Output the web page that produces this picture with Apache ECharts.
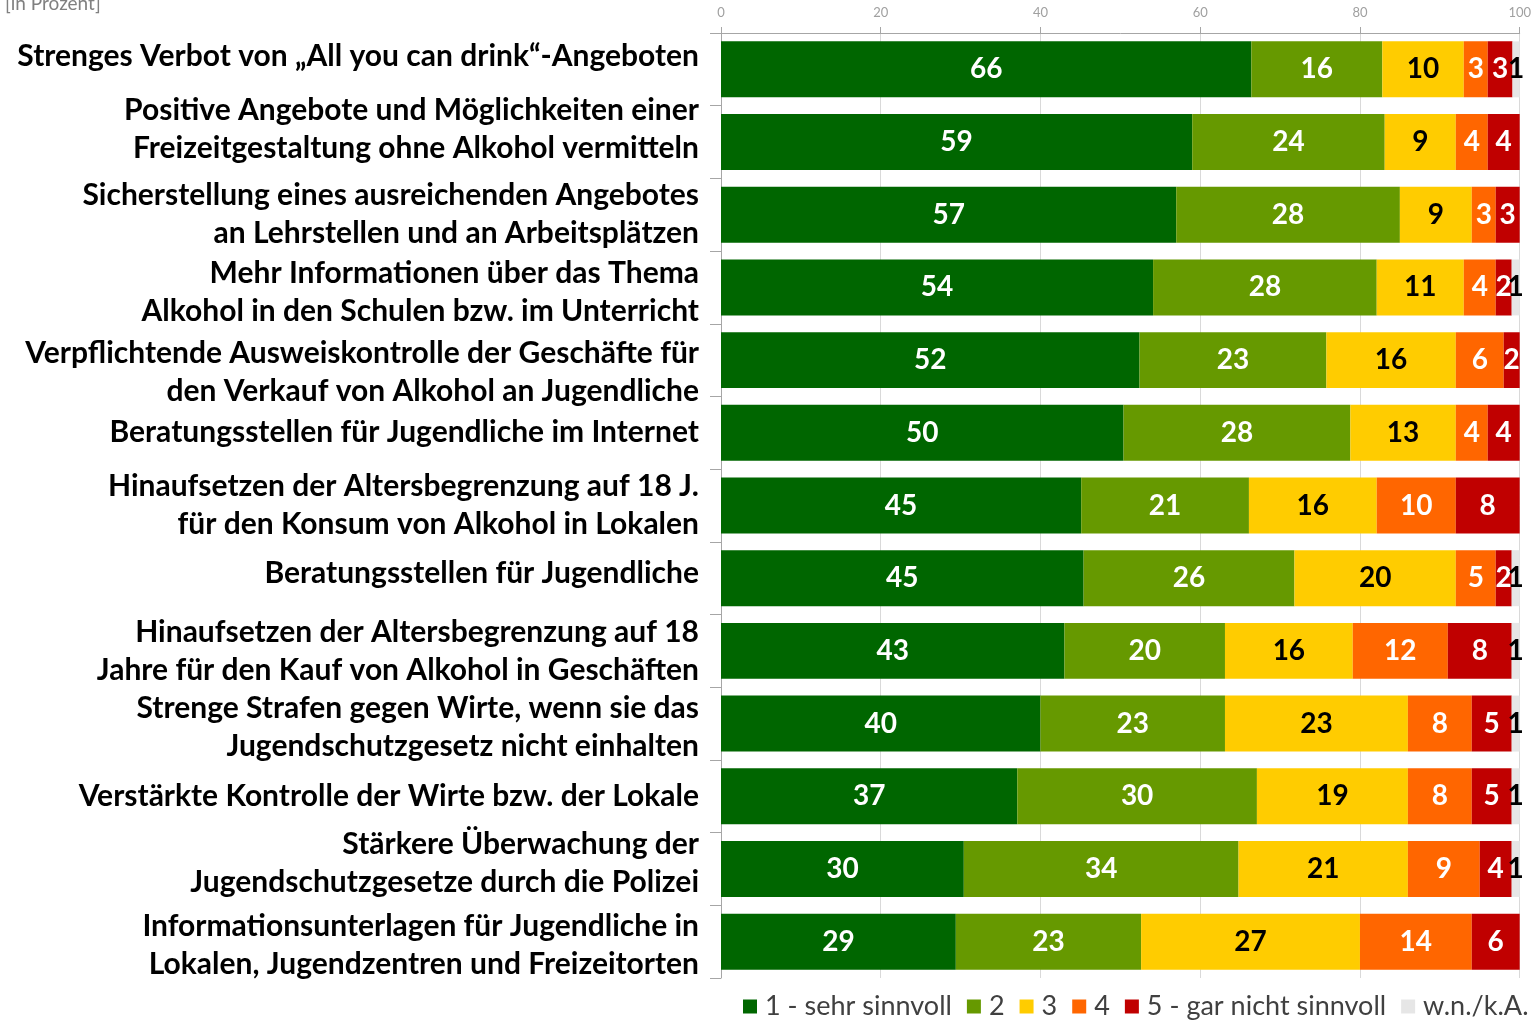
<!DOCTYPE html>
<html>
<head>
<meta charset="utf-8">
<script src="https://cdn.jsdelivr.net/npm/echarts@6/dist/echarts.min.js"></script>
<style>
  html, body { margin: 0; padding: 0; background: #fff; }
  #chart { width: 1534px; height: 1022px; }
</style>
</head>
<body>
<div id="chart"></div>
<script>
// Massnahmen (von oben nach unten)
var categories = [
  'Strenges Verbot von „All you can drink“-Angeboten',
  'Positive Angebote und Möglichkeiten einer\nFreizeitgestaltung ohne Alkohol vermitteln',
  'Sicherstellung eines ausreichenden Angebotes\nan Lehrstellen und an Arbeitsplätzen',
  'Mehr Informationen über das Thema\nAlkohol in den Schulen bzw. im Unterricht',
  'Verpflichtende Ausweiskontrolle der Geschäfte für\nden Verkauf von Alkohol an Jugendliche',
  'Beratungsstellen für Jugendliche im Internet',
  'Hinaufsetzen der Altersbegrenzung auf 18 J.\nfür den Konsum von Alkohol in Lokalen',
  'Beratungsstellen für Jugendliche',
  'Hinaufsetzen der Altersbegrenzung auf 18\nJahre für den Kauf von Alkohol in Geschäften',
  'Strenge Strafen gegen Wirte, wenn sie das\nJugendschutzgesetz nicht einhalten',
  'Verstärkte Kontrolle der Wirte bzw. der Lokale',
  'Stärkere Überwachung der\nJugendschutzgesetze durch die Polizei',
  'Informationsunterlagen für Jugendliche in\nLokalen, Jugendzentren und Freizeitorten'
];

var seriesNames = ['1 - sehr sinnvoll', '2', '3', '4', '5 - gar nicht sinnvoll', 'w.n./k.A.'];

// Werte in Prozent
var s1 = [66.4, 59, 57, 54.1, 52.4, 50.4, 45.1, 45.4, 43, 40, 37.1, 30.4, 29.4];
var s2 = [16.4, 24.1, 28, 28, 23.4, 28.4, 21, 26.4, 20.1, 23.1, 30, 34.4, 23.2];
var s3 = [10.2, 8.9, 9, 10.9, 16.2, 13.2, 16, 20.2, 16, 22.9, 18.9, 21.2, 27.4];
var s4 = [3, 4, 3, 4, 6, 4, 9.9, 5, 11.9, 8, 8, 9, 14];
var s5 = [3.1, 4, 3, 2, 2, 4, 8, 2, 8, 5, 5, 4, 6];
var wn = [0.9, 0, 0, 1, 0, 0, 0, 1, 1, 1, 1, 1, 0];

var xTicks = { min: 0, max: 100, interval: 20 };

var colors = ['#006600', '#669900', '#ffcc00', '#ff6600', '#c00000', '#e6e6e6'];
var labelColors = ['#fff', '#fff', '#000', '#fff', '#fff', '#000'];
var allData = [s1, s2, s3, s4, s5, wn];

// Beschriftung leicht verschoben wie im Original (negativ = hoch)
var labelShift = { 0: -13, 1: -13, 3: 5, 4: 12, 7: -5, 9: 4, 11: -6, 12: 4 };

var chart = echarts.init(document.getElementById('chart'));

var series = allData.map(function (d, i) {
  return {
    name: seriesNames[i],
    type: 'bar',
    stack: 'total',
    barCategoryGap: '23%',
    itemStyle: { color: colors[i] },
    label: {
      show: true,
      position: 'inside',
      color: labelColors[i],
      fontFamily: 'Lato',
      fontWeight: 'bold',
      fontSize: 28,
      formatter: function (p) {
        return p.value > 0 ? Math.round(p.value) : '';
      }
    },
    data: d
  };
});

var rich = {
  t: { fontSize: 30, fontWeight: 'bold', fontFamily: 'Lato', color: '#000', lineHeight: 38 }
};
Object.keys(labelShift).forEach(function (k) {
  rich['e' + k] = { lineHeight: Math.abs(labelShift[k]) * 2, fontSize: 8 };
});

var option = {
  animation: false,
  textStyle: { fontFamily: 'Lato' },
  title: {
    text: '[in Prozent]',
    left: 0,
    top: -11,
    textStyle: { color: '#808080', fontSize: 19, fontWeight: 'normal', fontFamily: 'Lato' }
  },
  legend: {
    data: seriesNames,
    left: 738,
    right: 0,
    bottom: -3,
    icon: 'rect',
    itemWidth: 14,
    itemHeight: 14,
    itemGap: 15,
    textStyle: { color: '#404040', fontSize: 27, fontFamily: 'Lato', padding: [0, 0, 0, 3] }
  },
  grid: {
    left: 721,
    right: 13,
    top: 33,
    bottom: 44
  },
  xAxis: {
    type: 'value',
    position: 'top',
    min: xTicks.min,
    max: xTicks.max,
    interval: xTicks.interval,
    axisLine: { show: true, lineStyle: { color: '#a6a6a6' } },
    axisTick: { show: true, inside: false, length: 6, lineStyle: { color: '#a6a6a6' } },
    axisLabel: { color: '#a0a0a0', fontSize: 13, margin: 14 },
    splitLine: { show: true, lineStyle: { color: '#d9d9d9' } }
  },
  yAxis: {
    type: 'category',
    inverse: true,
    data: categories,
    axisLine: { show: true, lineStyle: { color: '#a6a6a6' } },
    axisTick: { show: true, length: 11, lineStyle: { color: '#a6a6a6' } },
    axisLabel: {
      interval: 0,
      color: '#000',
      fontSize: 30,
      fontWeight: 'bold',
      fontFamily: 'Lato',
      lineHeight: 38,
      margin: 22,
      align: 'right',
      formatter: function (value, idx) {
        var lines = value.split('\n').map(function (l) { return '{t|' + l + '}'; });
        var s = labelShift[idx];
        if (s < 0) {
          lines.push('{e' + idx + '|}');
        } else if (s > 0) {
          lines.unshift('{e' + idx + '|}');
        }
        return lines.join('\n');
      },
      rich: rich
    }
  },
  series: series
};

chart.setOption(option);
</script>
</body>
</html>
